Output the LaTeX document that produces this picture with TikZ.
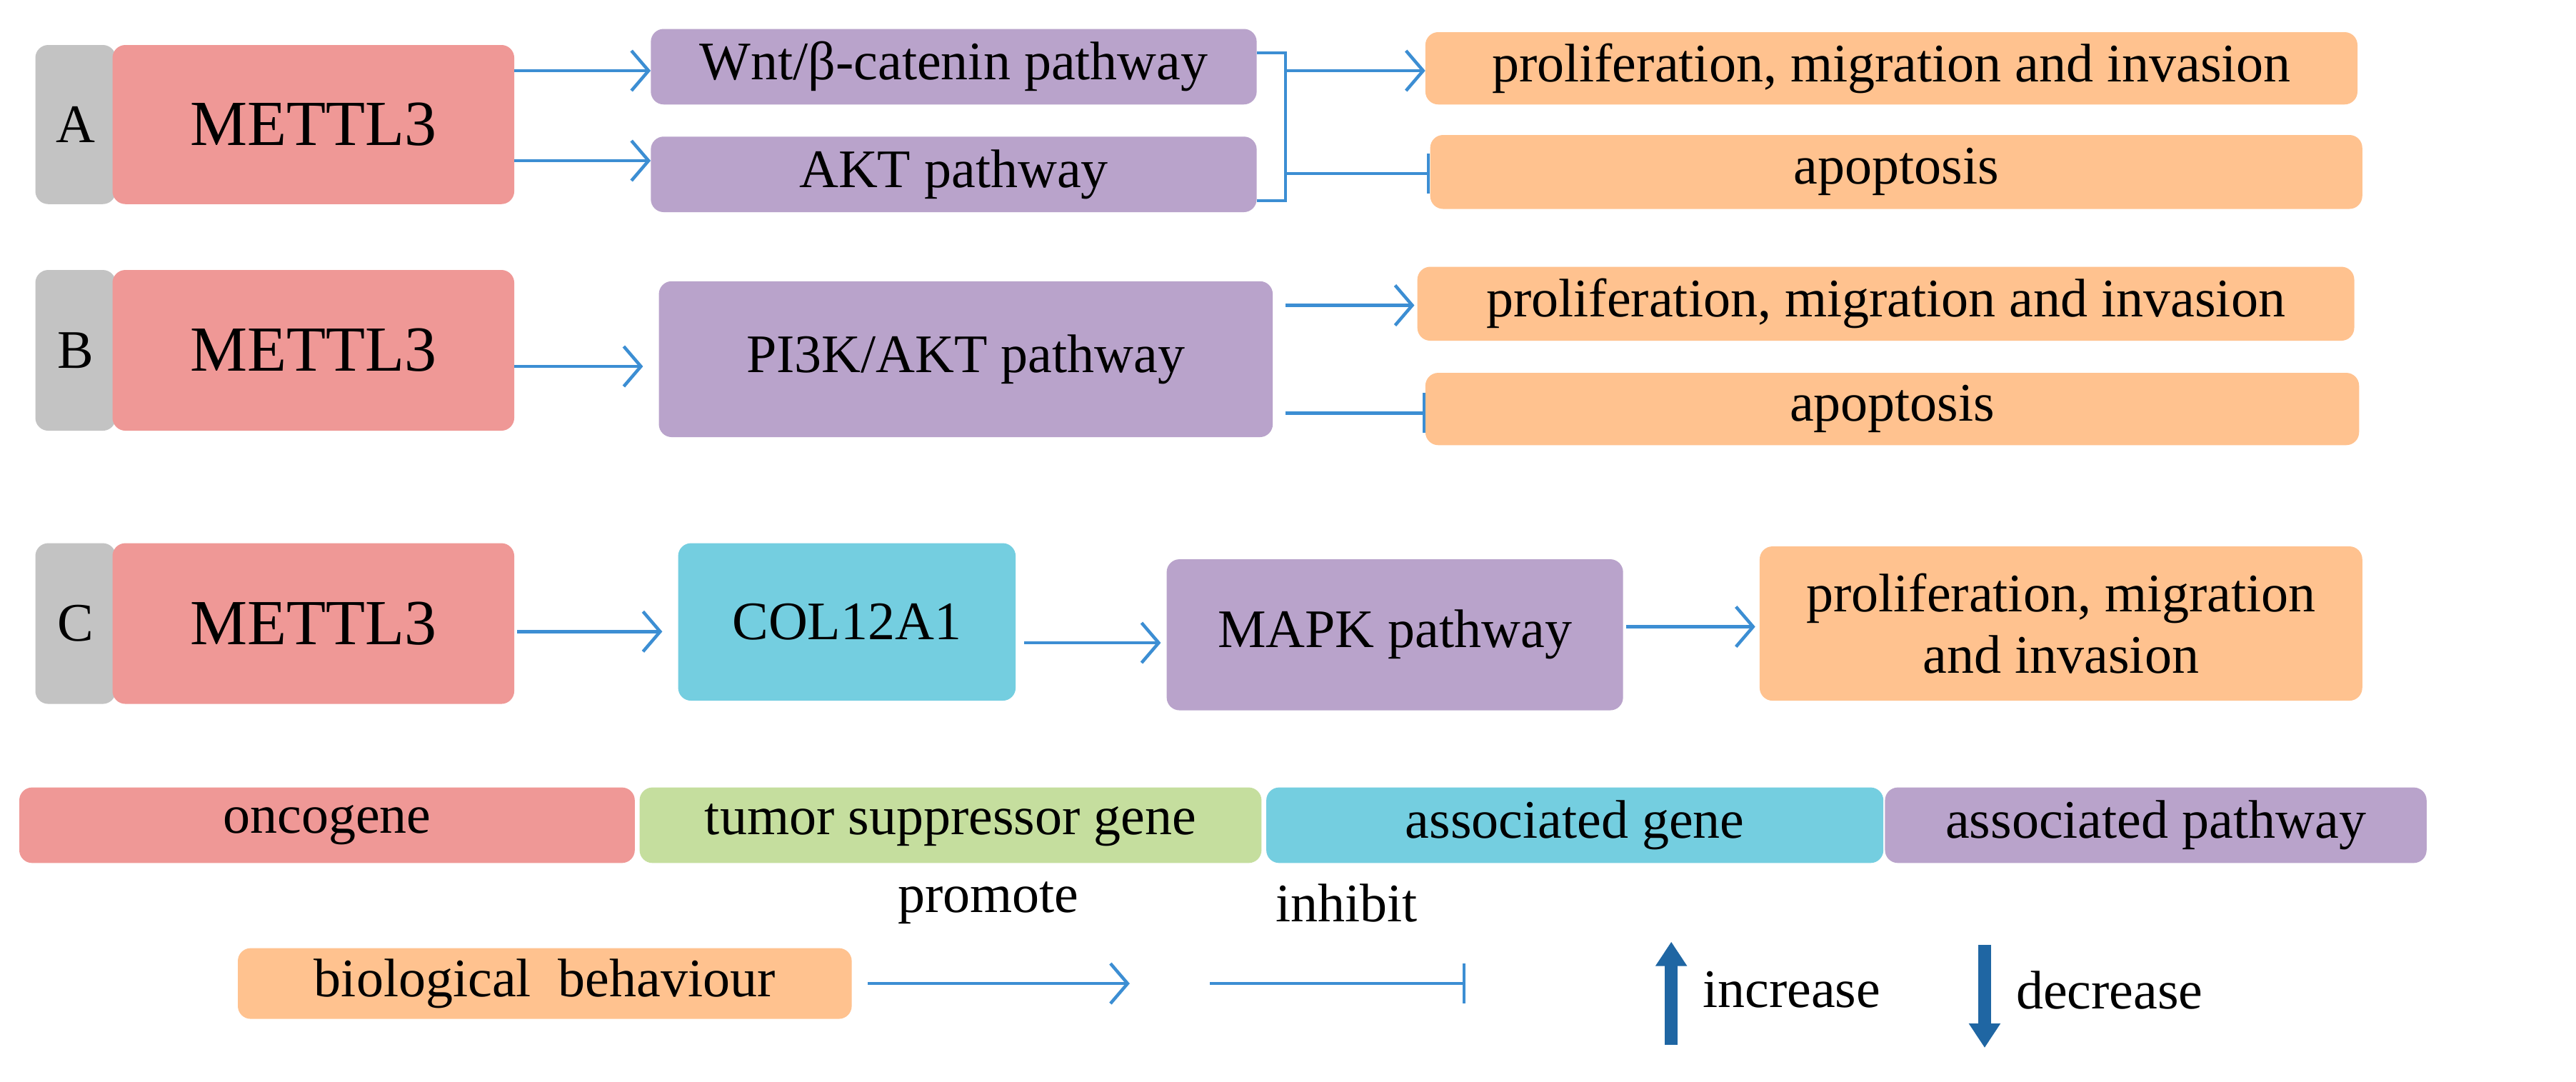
\documentclass[tikz,border=0pt]{standalone}
\usepackage{fontspec}
\setmainfont{Liberation Serif}
\usetikzlibrary{arrows.meta}
\definecolor{pk}{HTML}{EF9896}
\definecolor{pu}{HTML}{B9A3CB}
\definecolor{og}{HTML}{FFC28F}
\definecolor{gy}{HTML}{C3C3C3}
\definecolor{cy}{HTML}{74CEE0}
\definecolor{gn}{HTML}{C5DE9E}
\definecolor{ln}{HTML}{3C8ED3}
\definecolor{db}{HTML}{1F66A3}
\begin{document}
\begin{tikzpicture}[x=2.25pt,y=-2.25pt,
  bx/.style={rounded corners=18pt,inner sep=0pt,font=\fontsize{76}{86}\selectfont},
  pro/.style={draw=ln,line width=4.5pt,-{Straight Barb[length=24pt,width=56pt,line width=4.5pt]}},
  inh/.style={draw=ln,line width=4.5pt,-{Bar[width=56pt,line width=4pt]}},
  big/.style={draw=db,line width=18pt,-{Triangle[length=34pt,width=42pt]}}]
\useasboundingbox (0,0) rectangle (1603,673);
\fill[white] (0,0) rectangle (1603,673);
\newcommand\bxx[7]{\node[bx,fill=#6,minimum width=#3*2.25pt-#2*2.25pt,minimum height=#5*2.25pt-#4*2.25pt,align=center] (#1) at ({(#2+#3)/2},{(#4+#5)/2}) {#7};}
% row A
\bxx{ga}{22}{72}{28}{127}{gy}{A}
\bxx{ma}{70}{320}{28}{127}{pk}{\fontsize{90}{96}\selectfont METTL3}
\bxx{wnt}{405}{782}{18}{65}{pu}{Wnt/β-catenin pathway}
\bxx{akt}{405}{782}{85}{132}{pu}{AKT pathway}
\bxx{pa}{887}{1467}{20}{65}{og}{proliferation, migration and invasion}
\bxx{apa}{890}{1470}{84}{130}{og}{apoptosis}
\coordinate (c1) at (800,33); \coordinate (c2) at (800,125);
\coordinate (ka) at (800,44); \coordinate (kb) at (800,108);
\draw[ln,line width=4pt] (wnt.east|-c1) -- (c1) -- (c2) -- (akt.east|-c2);
\draw[pro] (ka) -- (pa.west|-ka);
\draw[inh] (kb) -- (apa.west|-kb);
\draw[pro] (ma.east|-0,44) -- (wnt.west|-0,44);
\draw[pro] (ma.east|-0,100) -- (akt.west|-0,100);
% row B
\bxx{gb}{22}{72}{168}{268}{gy}{B}
\bxx{mb}{70}{320}{168}{268}{pk}{\fontsize{90}{96}\selectfont METTL3}
\bxx{pi}{410}{792}{175}{272}{pu}{PI3K/AKT pathway}
\bxx{pb}{882}{1465}{166}{212}{og}{proliferation, migration and invasion}
\bxx{apb}{887}{1468}{232}{277}{og}{apoptosis}
\draw[pro] (mb.east|-0,228) -- ([xshift=-22pt]pi.west|-0,228);
\coordinate (kc) at (800,190); \coordinate (kd) at (800,257);
\draw[pro] (kc) -- ([xshift=-4pt]pb.west|-kc);
\draw[inh] (kd) -- (apb.west|-kd);
% row C
\bxx{gc}{22}{72}{338}{438}{gy}{C}
\bxx{mc}{70}{320}{338}{438}{pk}{\fontsize{90}{96}\selectfont METTL3}
\bxx{col}{422}{632}{338}{436}{cy}{COL12A1}
\bxx{mapk}{726}{1010}{348}{442}{pu}{MAPK pathway}
\bxx{pc}{1095}{1470}{340}{436}{og}{proliferation, migration\\and invasion}
\draw[pro] ([xshift=4pt]mc.east|-0,393) -- ([xshift=-22pt]col.west|-0,393);
\draw[pro] ([xshift=12pt]col.east|-0,400) -- ([xshift=-8pt]mapk.west|-0,400);
\draw[pro] ([xshift=4pt]mapk.east|-0,390) -- ([xshift=-6pt]pc.west|-0,390);
% legend
\bxx{l1}{12}{395}{490}{537}{pk}{oncogene}
\bxx{l2}{398}{785}{490}{537}{gn}{tumor suppressor gene}
\bxx{l3}{788}{1172}{490}{537}{cy}{associated gene}
\bxx{l4}{1173}{1510}{490}{537}{pu}{associated pathway}
\bxx{bb}{148}{530}{590}{634}{og}{biological\ \ behaviour}
\node[font=\fontsize{76}{86}\selectfont] (tp) at (615,562) {promote};
\node[font=\fontsize{76}{86}\selectfont] (ti) at (838,562) {inhibit};
\coordinate (p1) at (540,612); \coordinate (p2) at (703,612);
\coordinate (i1) at (753,612); \coordinate (i2) at (912,612);
\draw[pro] (p1) -- (p2);
\draw[inh] (i1) -- (i2);
\coordinate (u1) at (1040,650); \coordinate (u2) at (1040,586);
\coordinate (d1) at (1235,588); \coordinate (d2) at (1235,652);
\draw[big] (u1) -- (u2);
\draw[big] (d1) -- (d2);
\node[font=\fontsize{76}{86}\selectfont,anchor=west] (tinc) at (1058,616) {increase};
\node[font=\fontsize{76}{86}\selectfont,anchor=west] (tdec) at (1253,616) {decrease};
\end{tikzpicture}
\end{document}
